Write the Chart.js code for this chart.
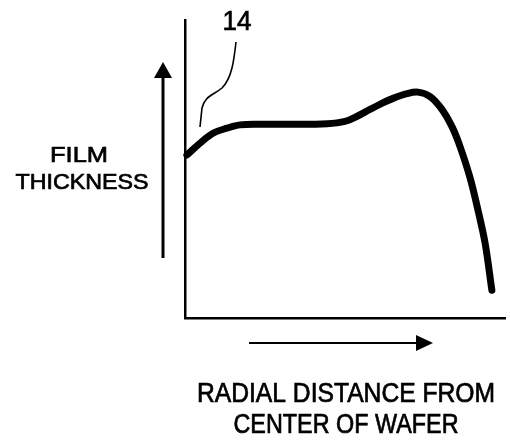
<!DOCTYPE html>
<html>
<head>
<meta charset="utf-8">
<script src="https://cdn.jsdelivr.net/npm/chart.js@4.4.1/dist/chart.umd.min.js"></script>
<style>
html,body{margin:0;padding:0;background:#fff;}
#wrap{width:510px;height:440px;position:relative;}
</style>
</head>
<body>
<div id="wrap"><canvas id="c"></canvas></div>
<script>
// Radial distance (arbitrary units, 0-100) and film thickness (arbitrary units, 0-100)
const radialDistance = [0.6, 4.7, 8.75, 13.1, 17.2, 23.4, 32.8, 44.4, 50, 53.8, 57.8, 60.9, 65, 69.4, 72.8, 76.6, 80.3, 83.4, 85.9, 89.1, 91.6, 93.8, 95.9];
const filmThickness  = [54.7, 58.7, 62, 63.7, 64.8, 65, 65, 65.2, 66, 67.7, 70, 71.7, 73.7, 75.3, 75.8, 74.3, 70, 64.3, 57.7, 47, 36, 25, 9.3];
const yLabelLines = ["FILM", "THICKNESS"];
const xLabelLines = ["RADIAL DISTANCE FROM", "CENTER OF WAFER"];
const curveLabel = "14";

const points = radialDistance.map((x, i) => ({x: x, y: filmThickness[i]}));

function fitText(ctx, str, cx, baseline, px, width) {
  ctx.save();
  ctx.font = px + 'px "Liberation Sans", Arial, sans-serif';
  const w = ctx.measureText(str).width;
  const s = width / w;
  ctx.translate(cx, baseline);
  ctx.scale(s, 1);
  ctx.textAlign = 'center';
  ctx.textBaseline = 'alphabetic';
  ctx.fillStyle = '#000';
  ctx.strokeStyle = '#000';
  ctx.lineWidth = 0.7;
  ctx.fillText(str, 0, 0);
  ctx.strokeText(str, 0, 0);
  ctx.restore();
}

const decor = {
  id: 'decor',
  afterDraw(chart) {
    const ctx = chart.ctx;
    ctx.save();
    ctx.strokeStyle = '#000';
    ctx.fillStyle = '#000';
    // vertical arrow
    ctx.lineWidth = 3;
    ctx.beginPath(); ctx.moveTo(163, 258); ctx.lineTo(163, 74); ctx.stroke();
    ctx.beginPath(); ctx.moveTo(163, 62); ctx.lineTo(154, 78); ctx.lineTo(172, 78); ctx.closePath(); ctx.fill();
    // horizontal arrow
    ctx.lineWidth = 2.2;
    ctx.beginPath(); ctx.moveTo(249, 343); ctx.lineTo(420, 343); ctx.stroke();
    ctx.beginPath(); ctx.moveTo(433, 343); ctx.lineTo(416, 335); ctx.lineTo(416, 351); ctx.closePath(); ctx.fill();
    // leader line
    ctx.lineWidth = 1.6;
    ctx.beginPath();
    ctx.moveTo(236, 42);
    ctx.bezierCurveTo(234, 60, 232, 78, 222, 88);
    ctx.bezierCurveTo(212, 96, 205, 96, 202, 108);
    ctx.lineTo(200, 127);
    ctx.stroke();
    ctx.restore();
    // texts
    fitText(ctx, yLabelLines[0], 79, 162, 22.5, 58);
    fitText(ctx, yLabelLines[1], 82, 189, 22.5, 133);
    fitText(ctx, xLabelLines[0], 346, 402, 27, 298);
    fitText(ctx, xLabelLines[1], 346, 433, 27, 225);
    fitText(ctx, curveLabel, 237, 30, 28, 29);
  }
};

new Chart(document.getElementById('c'), {
  type: 'line',
  data: {
    datasets: [{
      data: points,
      borderColor: '#000',
      borderWidth: 7,
      tension: 0.35,
      pointRadius: 0,
      borderCapStyle: 'round',
      borderJoinStyle: 'round',
      fill: false,
      clip: false
    }]
  },
  options: {
    responsive: true,
    maintainAspectRatio: false,
    animation: false,
    events: [],
    layout: { padding: { left: 185, right: 5, top: 20, bottom: 122 } },
    plugins: { legend: { display: false }, tooltip: { enabled: false } },
    scales: {
      x: {
        type: 'linear', min: 0, max: 100,
        grid: { display: false, drawTicks: false },
        ticks: { display: false },
        border: { display: true, color: '#000', width: 2.5 }
      },
      y: {
        type: 'linear', min: 0, max: 100,
        grid: { display: false, drawTicks: false },
        ticks: { display: false },
        border: { display: true, color: '#000', width: 2.5 }
      }
    }
  },
  plugins: [decor]
});
</script>
</body>
</html>
